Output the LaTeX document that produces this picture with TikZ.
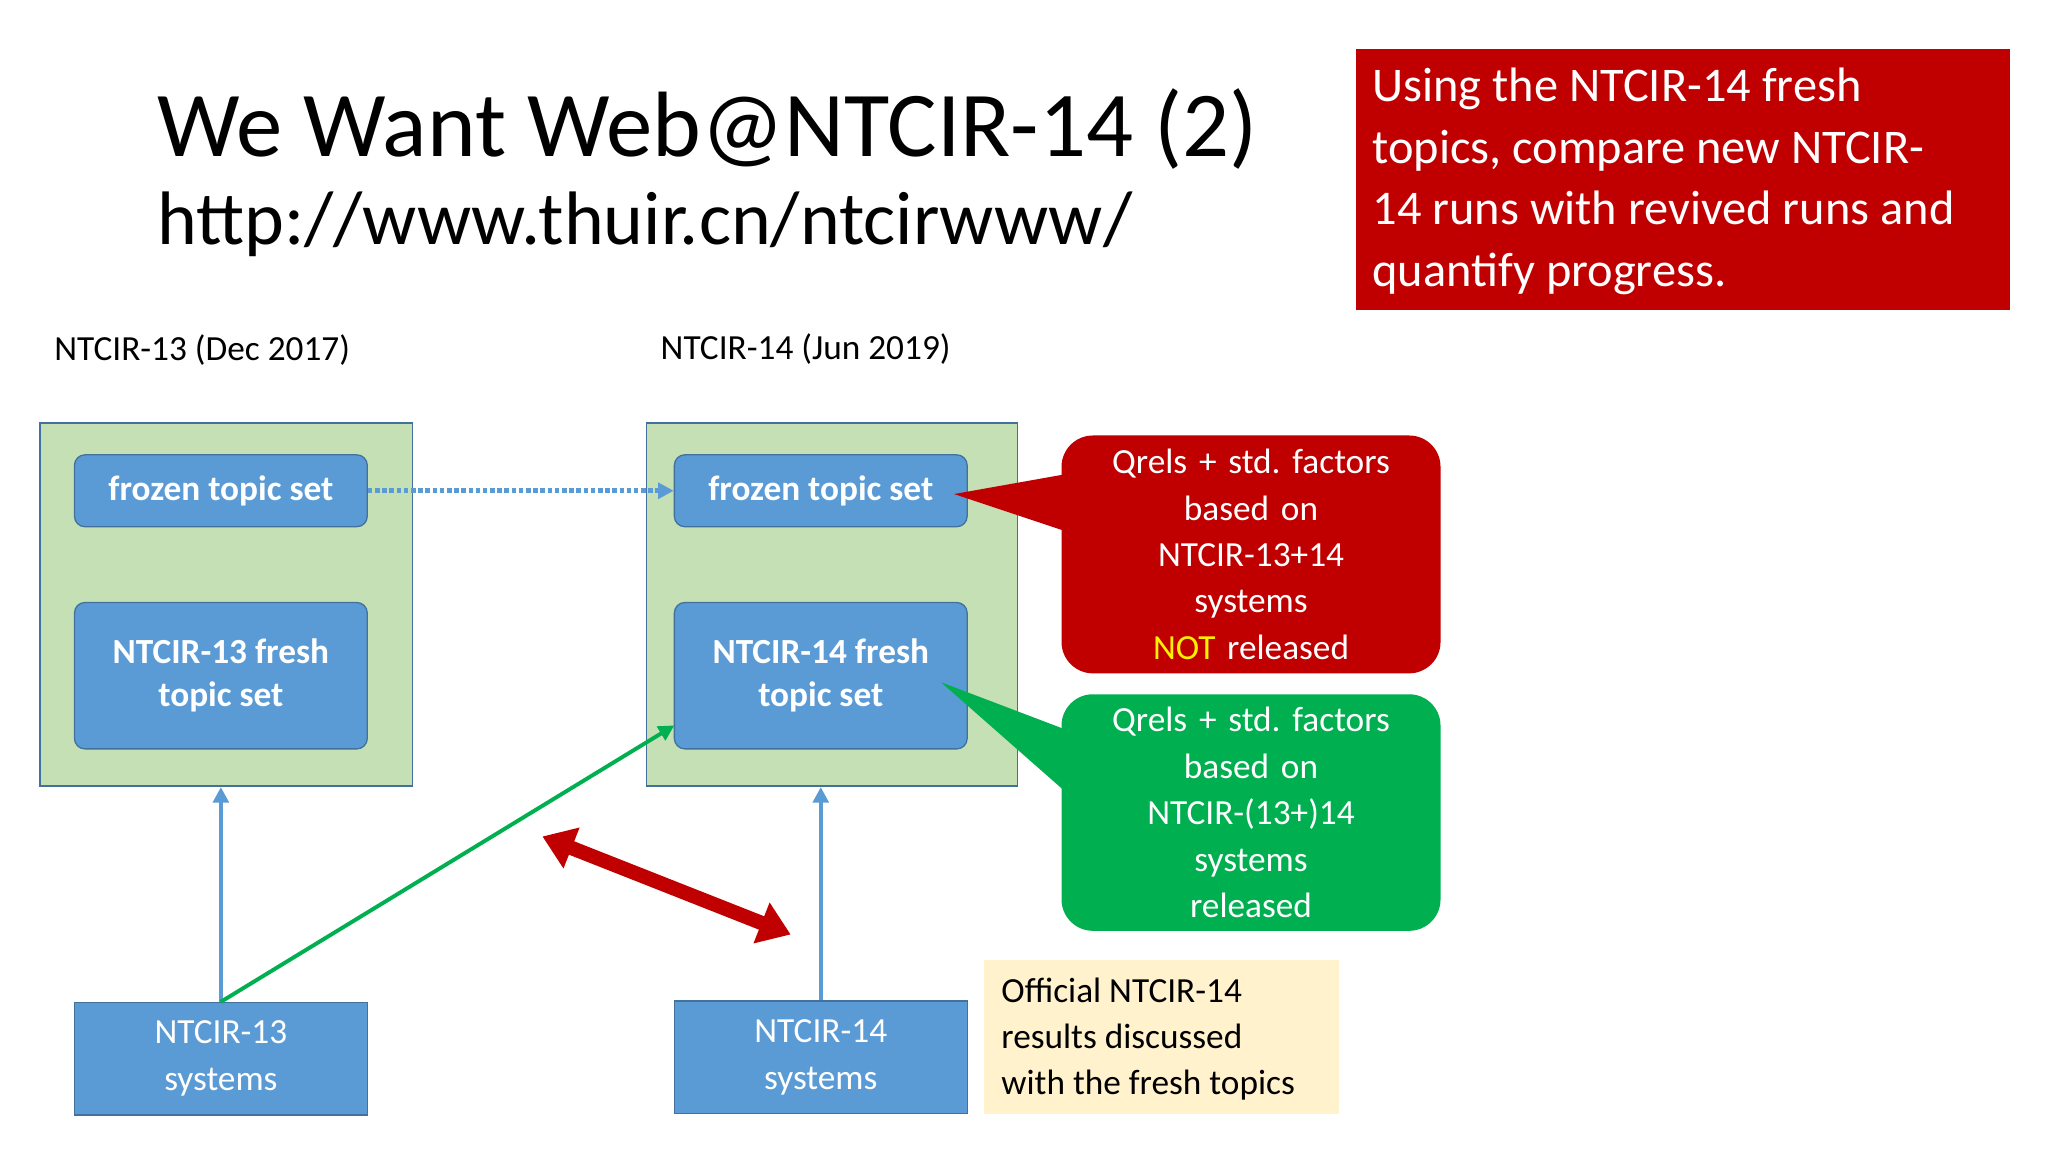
\documentclass[tikz,border=0pt]{standalone}
\usepackage{fontspec}
\setmainfont{Carlito}
\usetikzlibrary{arrows.meta}
\definecolor{bl}{HTML}{5B9BD5}
\definecolor{bd}{HTML}{41719C}
\definecolor{gf}{HTML}{C5E0B4}
\definecolor{rd}{HTML}{C00000}
\definecolor{gn}{HTML}{00B050}
\definecolor{yl}{HTML}{FFF2CC}
\begin{document}
\begin{tikzpicture}[x=1pt,y=-1pt,
 grp/.style={draw=bd,fill=gf,line width=1.2pt},
 topic/.style={draw=bd,fill=bl,rounded corners=8pt,line width=1pt,text=white,font=\bfseries\fontsize{27}{33}\selectfont,align=center},
 sys/.style={draw=bd,fill=bl,line width=1pt,text=white,font=\fontsize{27}{36}\selectfont,align=center},
 call/.style={rounded corners=24pt,text=white,font=\fontsize{27}{35.5}\selectfont,align=center},
 lab/.style={anchor=west,font=\fontsize{27}{30}\selectfont}]
\useasboundingbox (0,0) rectangle (1567,881.5);
\fill[white] (0,0) rectangle (1567,881.5);
\node[anchor=base west,inner sep=0,font=\fontsize{71}{70}\selectfont] (t) at (120,120) {We Want Web@NTCIR-14 (2)};
\node[anchor=base west,inner sep=0,font=\fontsize{58}{60}\selectfont] (u) at (120,187) {http://www.thuir.cn/ntcirwww/};
\node[fill=rd,minimum width=501,minimum height=200,anchor=north west] (rb) at (1037,37) {};
\node[anchor=north west,text=white,align=left,inner sep=0,font=\fontsize{37}{47}\selectfont] (rt) at (1050,52) {Using the NTCIR-14 fresh\\topics, compare new NTCIR-\\14 runs with revived runs and\\quantify progress.};
\node[lab] (l13) at (38,268) {NTCIR-13 (Dec 2017)};
\node[lab] (l14) at (502,267) {NTCIR-14 (Jun 2019)};
\node[grp,minimum width=285,minimum height=278,anchor=north west] (g1) at (30,323) {};
\node[grp,minimum width=284,minimum height=278,anchor=north west] (g2) at (494,323) {};
\node[topic,minimum width=224,minimum height=55] (f1) at (169,375.5) {frozen topic set};
\node[topic,minimum width=224,minimum height=55] (f2) at (628,375.5) {frozen topic set};
\node[topic,minimum width=224,minimum height=112] (n1) at (169,517) {NTCIR-13 fresh\\topic set};
\node[topic,minimum width=224,minimum height=112] (n2) at (628,517) {NTCIR-14 fresh\\topic set};
\node[sys,minimum width=224,minimum height=86] (s1) at (169,810) {NTCIR-13\\systems};
\node[sys,minimum width=224,minimum height=86] (s2) at (628,809) {NTCIR-14\\systems};
\draw[bl,line width=3.5pt,dotted,-{Triangle[length=12pt,width=12pt]}] (f1.east) -- (f2.west);
\draw[bl,line width=3pt,-{Triangle[length=12pt,width=12pt]}] (s1.north) -- (g1.south-|s1.north);
\draw[bl,line width=3pt,-{Triangle[length=12pt,width=12pt]}] (s2.north) -- (g2.south-|s2.north);
\coordinate (gt) at (516,555);
\draw[gn,line width=3pt,-{Triangle[length=12pt,width=12pt]}] (s1.north) -- (gt);
\coordinate (da) at (415,640);
\coordinate (db) at (605,715);
\draw[rd,line width=11pt,{Triangle[length=24pt,width=32pt]}-{Triangle[length=24pt,width=32pt]}] (da) -- (db);
\fill[rd] (820,362) -- (730,378) -- (820,408) -- cycle;
\node[call,fill=rd,minimum width=290,minimum height=182,anchor=north west] (c1) at (812,333) {};
\node[call,text width=280] (c1t) at (c1.center) {Qrels + std.\ factors\\based on\\NTCIR-13+14\\systems\\\textcolor{yellow}{NOT} released};
\fill[gn] (820,560) -- (720,522) -- (820,610) -- cycle;
\node[call,fill=gn,minimum width=290,minimum height=181,anchor=north west] (c2) at (812,531) {};
\node[call,text width=280] (c2t) at (c2.center) {Qrels + std.\ factors\\based on\\NTCIR-(13+)14\\systems\\released};
\node[fill=yl,minimum width=271,minimum height=118,anchor=north west] (y) at (753,734) {};
\node[anchor=west,align=left,inner sep=0,font=\fontsize{27}{35.5}\selectfont] (yt) at (766,795) {Official NTCIR-14\\results discussed\\with the fresh topics};
\end{tikzpicture}
\end{document}
